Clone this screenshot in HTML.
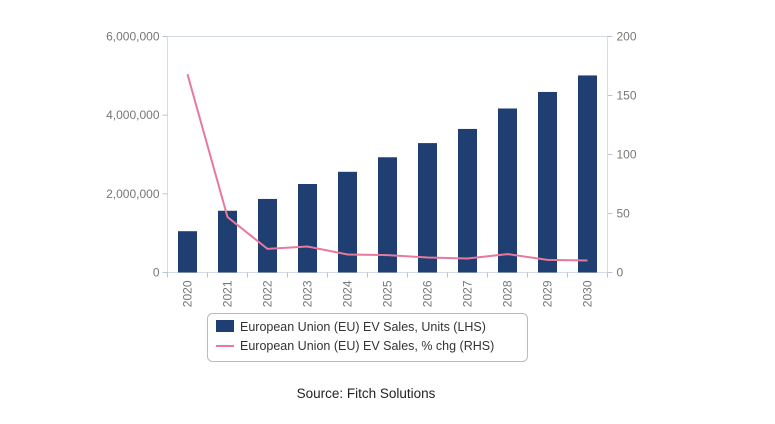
<!DOCTYPE html>
<html><head><meta charset="utf-8"><style>
body{margin:0;background:#fff;width:775px;height:419px;overflow:hidden;font-family:"Liberation Sans",sans-serif}
</style></head><body>
<svg id="c" width="775" height="419" xmlns="http://www.w3.org/2000/svg"></svg>
<script>
const categories=["2020","2021","2022","2023","2024","2025","2026","2027","2028","2029","2030"];
const salesUnits=[1050000,1570000,1870000,2250000,2560000,2930000,3290000,3650000,4170000,4590000,5010000];
const pctChg=[168,47,20,22,15.3,14.7,12.7,11.9,15.6,10.7,10.2];
const leftTicks=[0,2000000,4000000,6000000];
const rightTicks=[0,50,100,150,200];
const NS="http://www.w3.org/2000/svg";
const svg=document.getElementById('c');
const L=167.5,R=607.5,T=36.5,B=272.5;
const yL=v=>B-v/6000000*(B-T);
const yR=v=>B-v/200*(B-T);
const step=(R-L)/categories.length;
const xC=i=>L+step*(i+0.5);
function el(tag,attrs,name,text){const e=document.createElementNS(NS,tag);for(const k in attrs)e.setAttribute(k,attrs[k]);


if(text!==undefined)e.textContent=text;svg.appendChild(e);return e;}
el('rect',{x:L,y:T,width:R-L,height:B-T,fill:'none',stroke:'#d5dce8'},'plot-area');
leftTicks.forEach(v=>{const y=yL(v);el('line',{x1:L-5,x2:L,y1:y,y2:y,stroke:'#b8c4d8'},'left-tick');
el('text',{x:L-8,y:y+4,'text-anchor':'end','font-size':12,fill:'#777'},'left-tick-label',v.toLocaleString('en-US'));});
rightTicks.forEach(v=>{const y=yR(v);el('line',{x1:R,x2:R+5,y1:y,y2:y,stroke:'#b8c4d8'},'right-tick');
el('text',{x:R+9,y:y+4,'font-size':12,fill:'#777'},'right-tick-label',String(v));});
for(let i=0;i<=categories.length;i++){const x=L+step*i;el('line',{x1:x,x2:x,y1:B,y2:B+5,stroke:'#b8c4d8'},'x-tick');}
categories.forEach((c,i)=>{el('text',{x:0,y:0,'text-anchor':'end','font-size':12,fill:'#777',transform:`translate(${xC(i)+4},${B+8}) rotate(-90)`},'x-tick-label',c);});
salesUnits.forEach((v,i)=>{el('rect',{x:xC(i)-9.5,y:yL(v),width:19,height:B-yL(v),fill:'#1f3f73'},'bar-'+categories[i]);});
el('polyline',{points:pctChg.map((v,i)=>xC(i)+','+yR(v)).join(' '),fill:'none',stroke:'#e8799c','stroke-width':2},'pct-change-line');
el('rect',{x:207.5,y:313.5,width:320,height:48,rx:5,fill:'#fff',stroke:'#bbb'},'legend');
el('rect',{x:216,y:320,width:18,height:12,fill:'#1f3f73'},'legend-swatch-units');
el('text',{x:240,y:331,'font-size':12.5,fill:'#333'},'legend-entry-units','European Union (EU) EV Sales, Units (LHS)');
el('line',{x1:216,x2:234,y1:346,y2:346,stroke:'#e8799c','stroke-width':2},'legend-swatch-pct');
el('text',{x:240,y:350,'font-size':12.5,fill:'#333'},'legend-entry-pct','European Union (EU) EV Sales, % chg (RHS)');
el('text',{x:366,y:398,'text-anchor':'middle','font-size':13.5,fill:'#222'},'source-note','Source: Fitch Solutions');
</script>
</body></html>
